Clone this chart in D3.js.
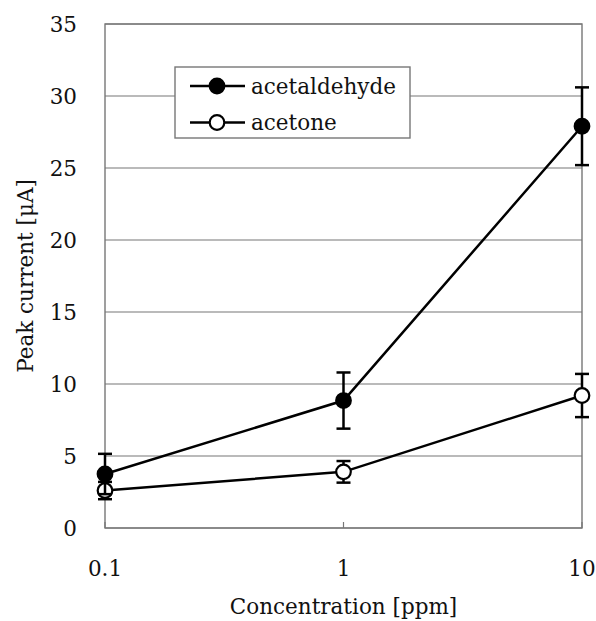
<!DOCTYPE html>
<meta charset="utf-8">
<style>
body { margin: 0; background: #fff; }
svg { font-family: "DejaVu Serif", "Liberation Serif", serif; }
</style>
<svg width="596" height="621"></svg>
<script src="https://d3js.org/d3.v7.min.js"></script>
<script>
// data
var concentrations = [0.1, 1, 10];
var acetaldehyde = [3.75, 8.85, 27.9];
var acetaldehydeErr = [1.4, 1.95, 2.7];
var acetone = [2.6, 3.9, 9.2];
var acetoneErr = [0.6, 0.75, 1.5];
var yTicks = [0, 5, 10, 15, 20, 25, 30, 35];
var xTicks = [0.1, 1, 10];

var svg = d3.select("svg");
var margin = {left: 105, right: 14, top: 24, bottom: 93};
var width = 596 - margin.left - margin.right,
    height = 621 - margin.top - margin.bottom;
var fs = 21.5;

var x = d3.scaleLog().domain([0.1, 10]).range([0, width]);
var y = d3.scaleLinear().domain([0, 35]).range([height, 0]);

var g = svg.append("g").attr("transform", "translate(" + margin.left + "," + margin.top + ")");

// gridlines
g.selectAll(".grid")
    .data(yTicks)
  .enter().append("line")
    .attr("x1", 0).attr("x2", width)
    .attr("y1", function(d) { return y(d); })
    .attr("y2", function(d) { return y(d); })
    .attr("stroke", "#777").attr("stroke-width", 1.2);

// frame
g.append("rect")
    .attr("width", width).attr("height", height)
    .attr("fill", "none").attr("stroke", "#777").attr("stroke-width", 1.4);

// y labels
g.selectAll(".ylab")
    .data(yTicks)
  .enter().append("text")
    .attr("x", -28)
    .attr("y", function(d) { return y(d); })
    .attr("dy", "0.35em")
    .attr("text-anchor", "end")
    .attr("font-size", fs)
    .attr("fill", "#111")
    .text(function(d) { return d; });

// x ticks (inward) and labels
g.selectAll(".xtick")
    .data(xTicks)
  .enter().append("line")
    .attr("x1", function(d) { return x(d); }).attr("x2", function(d) { return x(d); })
    .attr("y1", height).attr("y2", height - 6)
    .attr("stroke", "#777").attr("stroke-width", 1.2);

g.selectAll(".xlab")
    .data(xTicks)
  .enter().append("text")
    .attr("x", function(d) { return x(d); })
    .attr("y", height + 48)
    .attr("text-anchor", "middle")
    .attr("font-size", fs)
    .attr("fill", "#111")
    .text(function(d) { return d; });

// axis titles
svg.append("text")
    .attr("x", margin.left + x(1))
    .attr("y", 614)
    .attr("text-anchor", "middle")
    .attr("font-size", fs)
    .attr("fill", "#111")
    .text("Concentration [ppm]");

svg.append("text")
    .attr("transform", "translate(33,276) rotate(-90)")
    .attr("text-anchor", "middle")
    .attr("font-size", fs)
    .attr("fill", "#111")
    .text("Peak current [μA]");

var line = d3.line()
    .x(function(d) { return x(d[0]); })
    .y(function(d) { return y(d[1]); });

function drawSeries(vals, errs, fill) {
  var pts = concentrations.map(function(c, i) { return [c, vals[i], errs[i]]; });
  g.append("path")
      .datum(pts)
      .attr("d", line)
      .attr("fill", "none").attr("stroke", "#000").attr("stroke-width", 2.5);
  var eb = g.append("g").selectAll("g").data(pts).enter().append("g");
  eb.append("line")
      .attr("x1", function(d) { return x(d[0]); }).attr("x2", function(d) { return x(d[0]); })
      .attr("y1", function(d) { return y(d[1] - d[2]); })
      .attr("y2", function(d) { return y(d[1] + d[2]); })
      .attr("stroke", "#000").attr("stroke-width", 2.5);
  [-1, 1].forEach(function(s) {
    eb.append("line")
        .attr("x1", function(d) { return x(d[0]) - 7; }).attr("x2", function(d) { return x(d[0]) + 7; })
        .attr("y1", function(d) { return y(d[1] + s * d[2]); })
        .attr("y2", function(d) { return y(d[1] + s * d[2]); })
        .attr("stroke", "#000").attr("stroke-width", 2.5);
  });
  eb.append("circle")
      .attr("cx", function(d) { return x(d[0]); })
      .attr("cy", function(d) { return y(d[1]); })
      .attr("r", 7.3)
      .attr("fill", fill).attr("stroke", "#000").attr("stroke-width", 2.2);
}

drawSeries(acetone, acetoneErr, "#fff");
drawSeries(acetaldehyde, acetaldehydeErr, "#000");

// legend
var legend = svg.append("g").attr("transform", "translate(175,67)");
legend.append("rect")
    .attr("width", 235).attr("height", 71)
    .attr("fill", "#fff").attr("stroke", "#777").attr("stroke-width", 1.4);
var items = [["acetaldehyde", "#000"], ["acetone", "#fff"]];
var li = legend.selectAll(".item").data(items).enter().append("g")
    .attr("transform", function(d, i) { return "translate(0," + (19 + i * 36.5) + ")"; });
li.append("line")
    .attr("x1", 15).attr("x2", 70)
    .attr("stroke", "#000").attr("stroke-width", 2.5);
li.append("circle")
    .attr("cx", 42).attr("r", 7.3)
    .attr("fill", function(d) { return d[1]; })
    .attr("stroke", "#000").attr("stroke-width", 2.2);
li.append("text")
    .attr("x", 76).attr("dy", "0.35em")
    .attr("font-size", fs)
    .attr("fill", "#111")
    .text(function(d) { return d[0]; });
</script>
